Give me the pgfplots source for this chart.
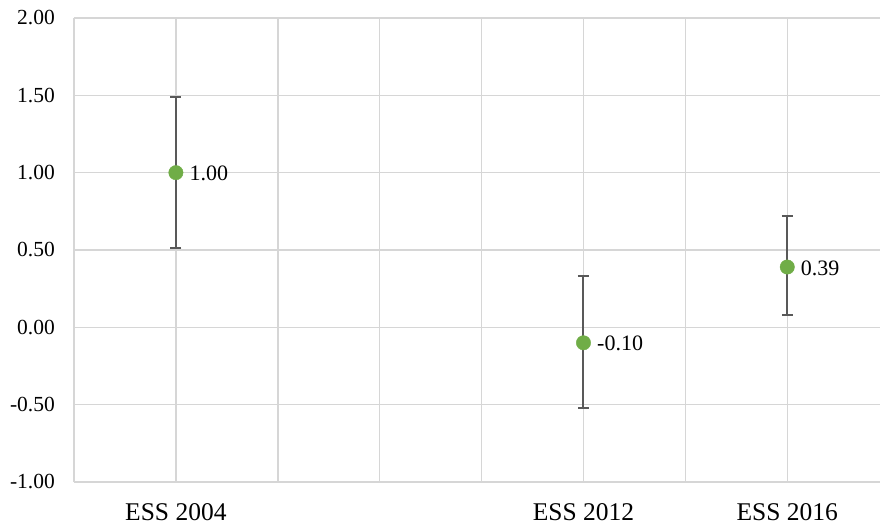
\documentclass[border=0pt]{standalone}
\usepackage{fontspec}
\setmainfont{Liberation Serif}
\usepackage{pgfplots}
\pgfplotsset{compat=1.18}
\usetikzlibrary{calc}
\definecolor{gridc}{HTML}{D6D6D6}
\definecolor{ptc}{HTML}{70AD47}
\definecolor{errc}{HTML}{595959}
\begin{document}
\begin{tikzpicture}
\begin{axis}[name=ax, scale only axis, width=806bp, height=464bp,
  xmin=0, xmax=7.91, ymin=-1, ymax=2,
  axis x line*=bottom, axis y line*=left,
  axis line style={gridc, line width=1.5bp},
  xtick={1,2,3,4,5,6,7}, xticklabels={ESS 2004,,,,ESS 2012,,ESS 2016},
  ytick={-1,-0.5,0,0.5,1,1.5,2},
  grid=major, major grid style={gridc, line width=1.5bp},
  major tick length=0pt,
  /pgf/number format/.cd, fixed, fixed zerofill, precision=2, assume math mode=true, /pgfplots/.cd,
  yticklabel style={font=\fontsize{21.5bp}{24bp}\selectfont, anchor=east, inner sep=0pt, xshift=-19bp},
  xticklabel style={font=\fontsize{25.5bp}{28bp}\selectfont, anchor=north, inner sep=0pt, yshift=-21bp},
  clip=false,
]
\addplot[draw=none, mark=none, forget plot,
  error bars/.cd, y dir=both, y explicit,
  error mark=|,
  error bar style={draw=errc, line width=2bp},
  error mark options={draw=errc, line width=2bp, mark size=5.5bp}]
  table[x=x, y=y, y error plus=ep, y error minus=em] {
x y ep em
1 1.00 0.49 0.485
5 -0.095 0.43 0.425
7 0.39 0.33 0.31
};
\addplot[only marks, mark=*, mark size=7.2bp, mark options={draw=ptc, fill=ptc},
  nodes near coords, point meta=explicit symbolic,
  nodes near coords align={anchor=west},
  every node near coord/.append style={anchor=west, inner sep=0pt, xshift=13.5bp, yshift=-1bp, text=black, font=\fontsize{22bp}{24bp}\selectfont}]
  table[x=x, y=y, meta=lab] {
x y lab
1 1.00 1.00
5 -0.10 -0.10
7 0.39 0.39
};
\end{axis}
\pgfresetboundingbox
\path[use as bounding box] ($(ax.south west)+(-74bp,-42bp)$) rectangle ($(ax.north east)+(0,18bp)$);
\end{tikzpicture}
\end{document}
